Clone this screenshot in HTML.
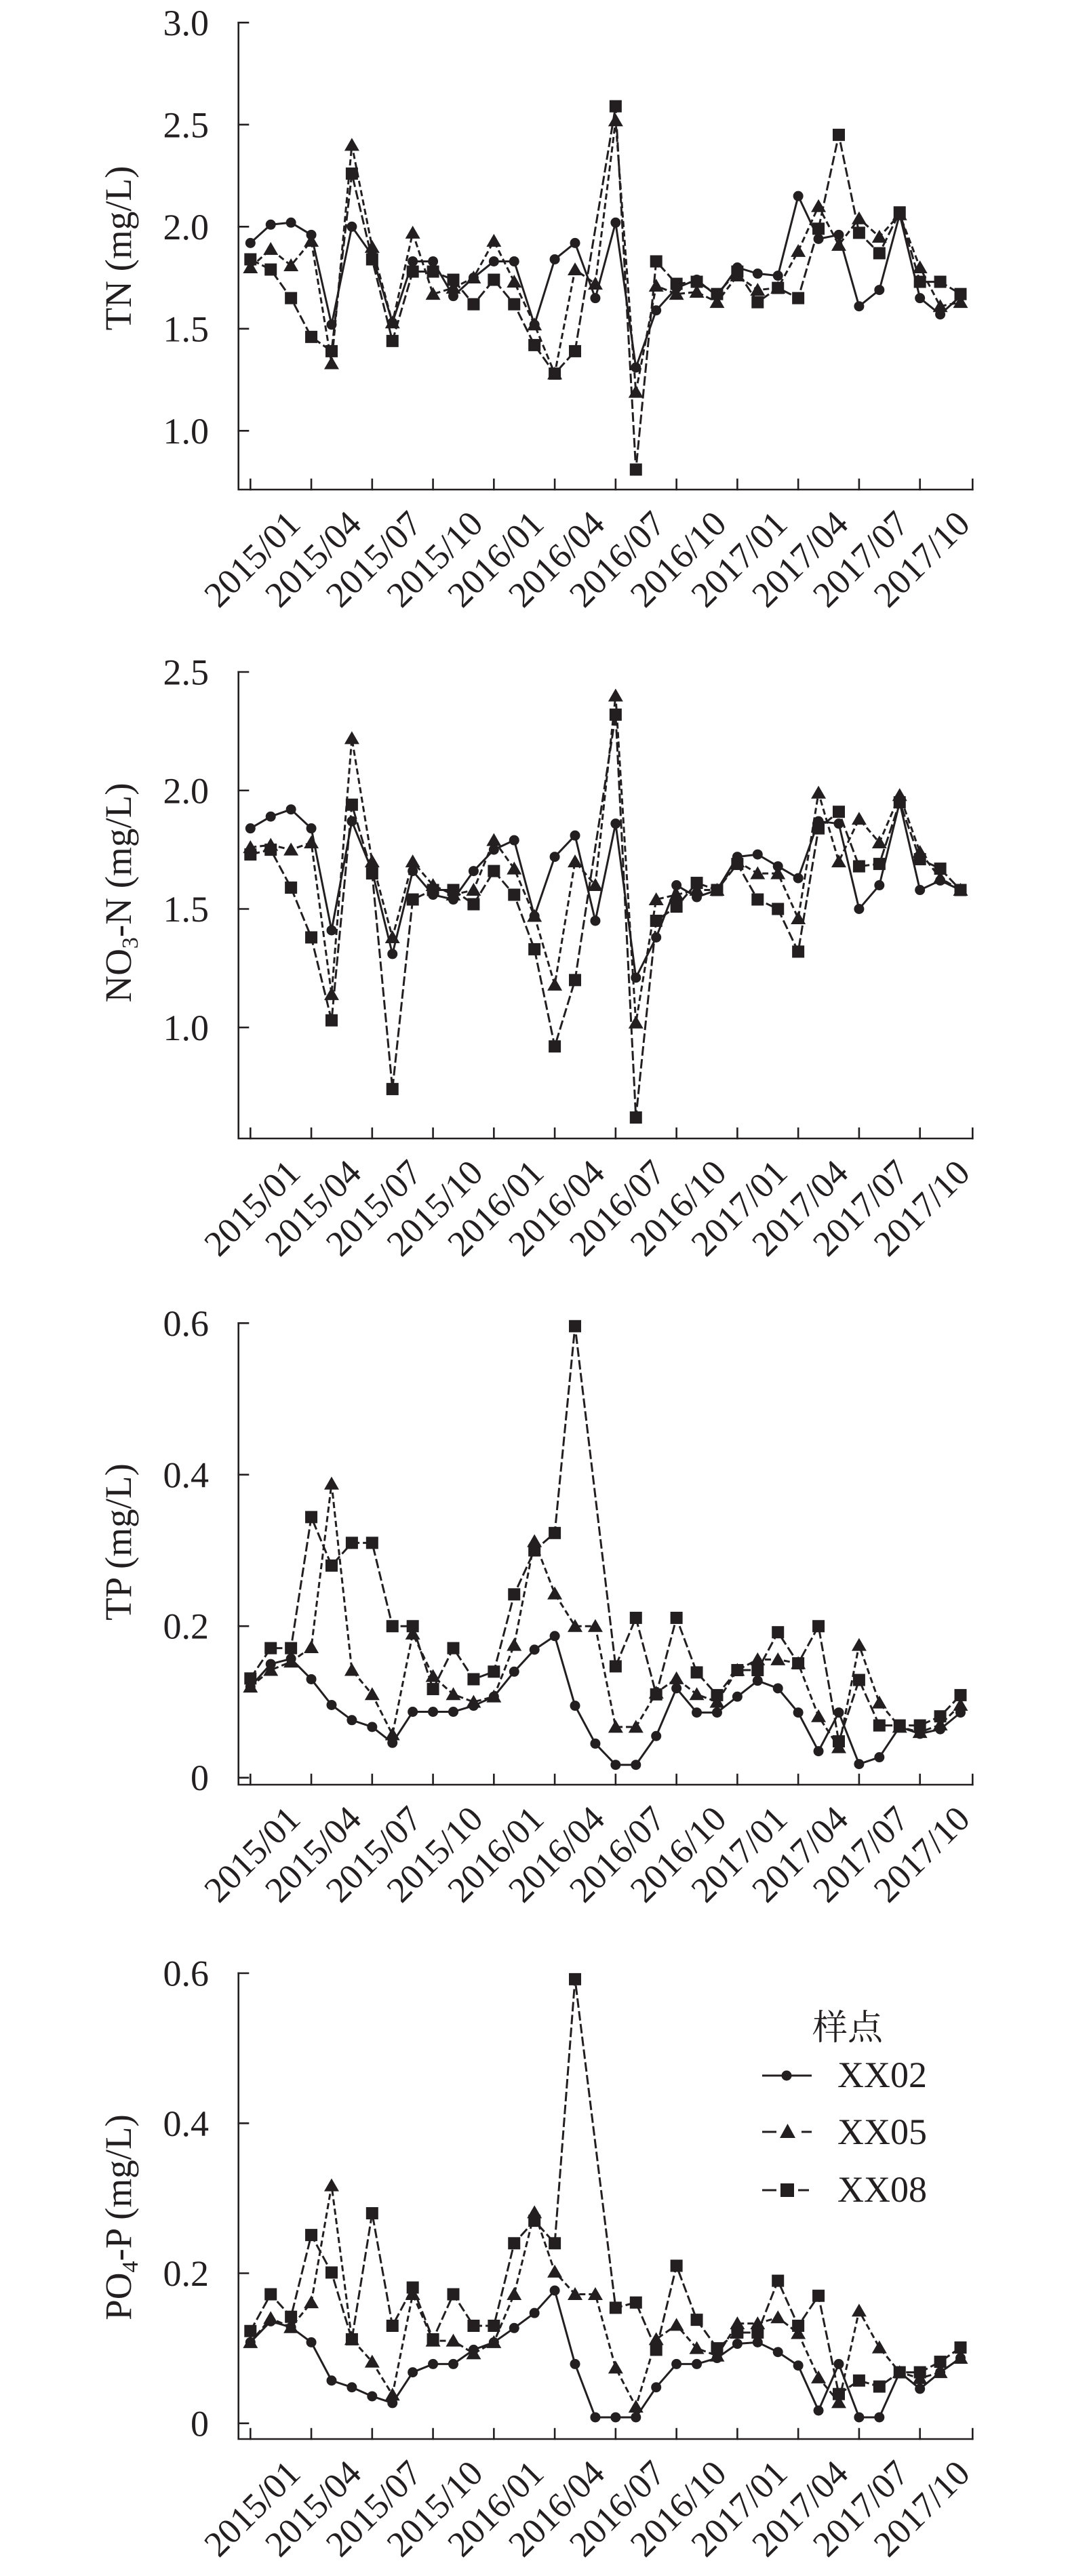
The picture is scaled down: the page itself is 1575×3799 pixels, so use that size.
<!DOCTYPE html>
<html><head><meta charset="utf-8">
<style>
html,body{margin:0;padding:0;background:#fff;}
svg{display:block;}
.ax{stroke:#231f20;stroke-width:2.6;fill:none;stroke-linecap:square;}
.l2{fill:none;stroke:#231f20;stroke-width:3;stroke-linejoin:round;}
.l5{fill:none;stroke:#231f20;stroke-width:3;stroke-dasharray:9 5;}
.l8{fill:none;stroke:#231f20;stroke-width:3;stroke-dasharray:14 5;}
text{font-family:"Liberation Serif","Noto Serif CJK SC",serif;fill:#231f20;}
.yt{font-size:54px;text-anchor:end;}
.xt{font-size:53px;text-anchor:middle;}
.ti{font-size:55px;text-anchor:middle;}
.lg{font-size:54px;}
</style></head>
<body>
<svg width="1575" height="3799" viewBox="0 0 1575 3799" xmlns="http://www.w3.org/2000/svg">
<defs>
<circle id="c1" r="7.5" transform="scale(0.033422,-0.0033223)" fill="#231f20"/>
<path id="t1" d="M0,-10.5L11,8.5L-11,8.5Z" transform="scale(0.033422,-0.0033223)" fill="#231f20"/>
<rect id="s1" x="-9" y="-9" width="18" height="18" transform="scale(0.033422,-0.0033223)" fill="#231f20"/>
<circle id="c2" r="7.5" transform="scale(0.033422,-0.0028612)" fill="#231f20"/>
<path id="t2" d="M0,-10.5L11,8.5L-11,8.5Z" transform="scale(0.033422,-0.0028612)" fill="#231f20"/>
<rect id="s2" x="-9" y="-9" width="18" height="18" transform="scale(0.033422,-0.0028612)" fill="#231f20"/>
<circle id="c3" r="7.5" transform="scale(0.033422,-0.00089502)" fill="#231f20"/>
<path id="t3" d="M0,-10.5L11,8.5L-11,8.5Z" transform="scale(0.033422,-0.00089502)" fill="#231f20"/>
<rect id="s3" x="-9" y="-9" width="18" height="18" transform="scale(0.033422,-0.00089502)" fill="#231f20"/>
<circle id="c4" r="7.5" transform="scale(0.033422,-0.00090391)" fill="#231f20"/>
<path id="t4" d="M0,-10.5L11,8.5L-11,8.5Z" transform="scale(0.033422,-0.00090391)" fill="#231f20"/>
<rect id="s4" x="-9" y="-9" width="18" height="18" transform="scale(0.033422,-0.00090391)" fill="#231f20"/>
</defs>

<!-- ================= PANEL 1 : TN ================= -->
<g>
<path class="ax" d="M351.7,33.3V722H1434.3"/>
<path class="ax" d="M351.7,33.3H366M351.7,183.8H366M351.7,334.3H366M351.7,484.8H366M351.7,635.3H366"/>
<path class="ax" d="M369.3,722V707M459.06,722V707M548.82,722V707M638.58,722V707M728.34,722V707M818.1,722V707M907.86,722V707M997.62,722V707M1087.38,722V707M1177.14,722V707M1266.9,722V707M1356.66,722V707M1434.3,722V707"/>
<text class="yt" x="308" y="51.8">3.0</text>
<text class="yt" x="308" y="202.3">2.5</text>
<text class="yt" x="308" y="352.8">2.0</text>
<text class="yt" x="308" y="503.3">1.5</text>
<text class="yt" x="308" y="653.8">1.0</text>
<text class="ti" transform="translate(193,366) rotate(-90)">TN (mg/L)</text>
<g transform="translate(0,837)">
<text class="xt" transform="translate(384.3,0) rotate(-45)">2015/01</text>
<text class="xt" transform="translate(474.06,0) rotate(-45)">2015/04</text>
<text class="xt" transform="translate(563.82,0) rotate(-45)">2015/07</text>
<text class="xt" transform="translate(653.58,0) rotate(-45)">2015/10</text>
<text class="xt" transform="translate(743.34,0) rotate(-45)">2016/01</text>
<text class="xt" transform="translate(833.1,0) rotate(-45)">2016/04</text>
<text class="xt" transform="translate(922.86,0) rotate(-45)">2016/07</text>
<text class="xt" transform="translate(1012.62,0) rotate(-45)">2016/10</text>
<text class="xt" transform="translate(1102.38,0) rotate(-45)">2017/01</text>
<text class="xt" transform="translate(1192.14,0) rotate(-45)">2017/04</text>
<text class="xt" transform="translate(1281.9,0) rotate(-45)">2017/07</text>
<text class="xt" transform="translate(1371.66,0) rotate(-45)">2017/10</text>
</g>
<g transform="matrix(29.92 0 0 -301 369.3 936.3)">
<polyline class="l8" vector-effect="non-scaling-stroke" points="0,1.84 1,1.79 2,1.65 3,1.46 4,1.39 5,2.26 6,1.84 7,1.44 8,1.78 9,1.78 10,1.74 11,1.62 12,1.74 13,1.62 14,1.42 15,1.28 16,1.39 18,2.59 19,0.81 20,1.83 21,1.72 22,1.73 23,1.67 24,1.78 25,1.63 26,1.70 27,1.65 28,1.99 29,2.45 30,1.97 31,1.87 32,2.07 33,1.73 34,1.73 35,1.67"/>
<polyline class="l5" vector-effect="non-scaling-stroke" points="0,1.80 1,1.89 2,1.81 3,1.93 4,1.33 5,2.40 6,1.90 7,1.53 8,1.97 9,1.67 10,1.70 11,1.75 12,1.93 13,1.73 14,1.52 15,1.28 16,1.79 17,1.72 18,2.52 19,1.19 20,1.71 21,1.67 22,1.68 23,1.63 24,1.76 25,1.69 26,1.70 27,1.88 28,2.10 29,1.91 30,2.04 31,1.95 32,2.06 33,1.80 34,1.61 35,1.63"/>
<polyline class="l2" vector-effect="non-scaling-stroke" points="0,1.92 1,2.01 2,2.02 3,1.96 4,1.52 5,2.00 6,1.86 7,1.53 8,1.83 9,1.83 10,1.66 11,1.75 12,1.83 13,1.83 14,1.52 15,1.84 16,1.92 17,1.65 18,2.02 19,1.31 20,1.59 21,1.70 22,1.74 23,1.66 24,1.80 25,1.77 26,1.76 27,2.15 28,1.94 29,1.96 30,1.61 31,1.69 32,2.06 33,1.65 34,1.57 35,1.66"/>
<use href="#s1" x="0" y="1.84"/><use href="#s1" x="1" y="1.79"/><use href="#s1" x="2" y="1.65"/><use href="#s1" x="3" y="1.46"/><use href="#s1" x="4" y="1.39"/><use href="#s1" x="5" y="2.26"/><use href="#s1" x="6" y="1.84"/><use href="#s1" x="7" y="1.44"/><use href="#s1" x="8" y="1.78"/><use href="#s1" x="9" y="1.78"/><use href="#s1" x="10" y="1.74"/><use href="#s1" x="11" y="1.62"/><use href="#s1" x="12" y="1.74"/><use href="#s1" x="13" y="1.62"/><use href="#s1" x="14" y="1.42"/><use href="#s1" x="15" y="1.28"/><use href="#s1" x="16" y="1.39"/><use href="#s1" x="18" y="2.59"/><use href="#s1" x="19" y="0.81"/><use href="#s1" x="20" y="1.83"/><use href="#s1" x="21" y="1.72"/><use href="#s1" x="22" y="1.73"/><use href="#s1" x="23" y="1.67"/><use href="#s1" x="24" y="1.78"/><use href="#s1" x="25" y="1.63"/><use href="#s1" x="26" y="1.70"/><use href="#s1" x="27" y="1.65"/><use href="#s1" x="28" y="1.99"/><use href="#s1" x="29" y="2.45"/><use href="#s1" x="30" y="1.97"/><use href="#s1" x="31" y="1.87"/><use href="#s1" x="32" y="2.07"/><use href="#s1" x="33" y="1.73"/><use href="#s1" x="34" y="1.73"/><use href="#s1" x="35" y="1.67"/>
<use href="#t1" x="0" y="1.80"/><use href="#t1" x="1" y="1.89"/><use href="#t1" x="2" y="1.81"/><use href="#t1" x="3" y="1.93"/><use href="#t1" x="4" y="1.33"/><use href="#t1" x="5" y="2.40"/><use href="#t1" x="6" y="1.90"/><use href="#t1" x="7" y="1.53"/><use href="#t1" x="8" y="1.97"/><use href="#t1" x="9" y="1.67"/><use href="#t1" x="10" y="1.70"/><use href="#t1" x="11" y="1.75"/><use href="#t1" x="12" y="1.93"/><use href="#t1" x="13" y="1.73"/><use href="#t1" x="14" y="1.52"/><use href="#t1" x="15" y="1.28"/><use href="#t1" x="16" y="1.79"/><use href="#t1" x="17" y="1.72"/><use href="#t1" x="18" y="2.52"/><use href="#t1" x="19" y="1.19"/><use href="#t1" x="20" y="1.71"/><use href="#t1" x="21" y="1.67"/><use href="#t1" x="22" y="1.68"/><use href="#t1" x="23" y="1.63"/><use href="#t1" x="24" y="1.76"/><use href="#t1" x="25" y="1.69"/><use href="#t1" x="26" y="1.70"/><use href="#t1" x="27" y="1.88"/><use href="#t1" x="28" y="2.10"/><use href="#t1" x="29" y="1.91"/><use href="#t1" x="30" y="2.04"/><use href="#t1" x="31" y="1.95"/><use href="#t1" x="32" y="2.06"/><use href="#t1" x="33" y="1.80"/><use href="#t1" x="34" y="1.61"/><use href="#t1" x="35" y="1.63"/>
<use href="#c1" x="0" y="1.92"/><use href="#c1" x="1" y="2.01"/><use href="#c1" x="2" y="2.02"/><use href="#c1" x="3" y="1.96"/><use href="#c1" x="4" y="1.52"/><use href="#c1" x="5" y="2.00"/><use href="#c1" x="6" y="1.86"/><use href="#c1" x="7" y="1.53"/><use href="#c1" x="8" y="1.83"/><use href="#c1" x="9" y="1.83"/><use href="#c1" x="10" y="1.66"/><use href="#c1" x="11" y="1.75"/><use href="#c1" x="12" y="1.83"/><use href="#c1" x="13" y="1.83"/><use href="#c1" x="14" y="1.52"/><use href="#c1" x="15" y="1.84"/><use href="#c1" x="16" y="1.92"/><use href="#c1" x="17" y="1.65"/><use href="#c1" x="18" y="2.02"/><use href="#c1" x="19" y="1.31"/><use href="#c1" x="20" y="1.59"/><use href="#c1" x="21" y="1.70"/><use href="#c1" x="22" y="1.74"/><use href="#c1" x="23" y="1.66"/><use href="#c1" x="24" y="1.80"/><use href="#c1" x="25" y="1.77"/><use href="#c1" x="26" y="1.76"/><use href="#c1" x="27" y="2.15"/><use href="#c1" x="28" y="1.94"/><use href="#c1" x="29" y="1.96"/><use href="#c1" x="30" y="1.61"/><use href="#c1" x="31" y="1.69"/><use href="#c1" x="32" y="2.06"/><use href="#c1" x="33" y="1.65"/><use href="#c1" x="34" y="1.57"/><use href="#c1" x="35" y="1.66"/>
</g>
</g>

<!-- ================= PANEL 2 : NO3-N ================= -->
<g>
<path class="ax" d="M351.7,991V1679H1434.3"/>
<path class="ax" d="M351.7,991H366M351.7,1165.75H366M351.7,1340.5H366M351.7,1515.25H366"/>
<path class="ax" d="M369.3,1679V1664M459.06,1679V1664M548.82,1679V1664M638.58,1679V1664M728.34,1679V1664M818.1,1679V1664M907.86,1679V1664M997.62,1679V1664M1087.38,1679V1664M1177.14,1679V1664M1266.9,1679V1664M1356.66,1679V1664M1434.3,1679V1664"/>
<text class="yt" x="308" y="1009.5">2.5</text>
<text class="yt" x="308" y="1184.25">2.0</text>
<text class="yt" x="308" y="1359">1.5</text>
<text class="yt" x="308" y="1533.75">1.0</text>
<text class="ti" transform="translate(193,1316.5) rotate(-90)">NO<tspan font-size="34" dy="10">3</tspan><tspan dy="-10">-N (mg/L)</tspan></text>
<g transform="translate(0,1794)">
<text class="xt" transform="translate(384.3,0) rotate(-45)">2015/01</text>
<text class="xt" transform="translate(474.06,0) rotate(-45)">2015/04</text>
<text class="xt" transform="translate(563.82,0) rotate(-45)">2015/07</text>
<text class="xt" transform="translate(653.58,0) rotate(-45)">2015/10</text>
<text class="xt" transform="translate(743.34,0) rotate(-45)">2016/01</text>
<text class="xt" transform="translate(833.1,0) rotate(-45)">2016/04</text>
<text class="xt" transform="translate(922.86,0) rotate(-45)">2016/07</text>
<text class="xt" transform="translate(1012.62,0) rotate(-45)">2016/10</text>
<text class="xt" transform="translate(1102.38,0) rotate(-45)">2017/01</text>
<text class="xt" transform="translate(1192.14,0) rotate(-45)">2017/04</text>
<text class="xt" transform="translate(1281.9,0) rotate(-45)">2017/07</text>
<text class="xt" transform="translate(1371.66,0) rotate(-45)">2017/10</text>
</g>
<g transform="matrix(29.92 0 0 -349.5 369.3 1864.75)">
<polyline class="l8" vector-effect="non-scaling-stroke" points="0,1.73 1,1.75 2,1.59 3,1.38 4,1.03 5,1.94 6,1.65 7,0.74 8,1.54 9,1.58 10,1.58 11,1.52 12,1.66 13,1.56 14,1.33 15,0.92 16,1.20 18,2.32 19,0.62 20,1.45 21,1.51 22,1.61 23,1.58 24,1.69 25,1.54 26,1.50 27,1.32 28,1.84 29,1.91 30,1.68 31,1.69 32,1.95 33,1.71 34,1.67 35,1.58"/>
<polyline class="l5" vector-effect="non-scaling-stroke" points="0,1.76 1,1.77 2,1.75 3,1.78 4,1.14 5,2.22 6,1.70 7,1.38 8,1.70 9,1.60 10,1.56 11,1.58 12,1.79 13,1.67 14,1.47 15,1.18 16,1.70 17,1.60 18,2.40 19,1.02 20,1.54 21,1.56 22,1.58 23,1.58 24,1.70 25,1.65 26,1.65 27,1.46 28,1.99 29,1.70 30,1.88 31,1.78 32,1.98 33,1.74 34,1.63 35,1.58"/>
<polyline class="l2" vector-effect="non-scaling-stroke" points="0,1.84 1,1.89 2,1.92 3,1.84 4,1.41 5,1.87 6,1.66 7,1.31 8,1.66 9,1.56 10,1.54 11,1.66 12,1.75 13,1.79 14,1.47 15,1.72 16,1.81 17,1.45 18,1.86 19,1.21 20,1.38 21,1.60 22,1.55 23,1.58 24,1.72 25,1.73 26,1.68 27,1.63 28,1.87 29,1.86 30,1.50 31,1.60 32,1.95 33,1.58 34,1.62 35,1.58"/>
<use href="#s2" x="0" y="1.73"/><use href="#s2" x="1" y="1.75"/><use href="#s2" x="2" y="1.59"/><use href="#s2" x="3" y="1.38"/><use href="#s2" x="4" y="1.03"/><use href="#s2" x="5" y="1.94"/><use href="#s2" x="6" y="1.65"/><use href="#s2" x="7" y="0.74"/><use href="#s2" x="8" y="1.54"/><use href="#s2" x="9" y="1.58"/><use href="#s2" x="10" y="1.58"/><use href="#s2" x="11" y="1.52"/><use href="#s2" x="12" y="1.66"/><use href="#s2" x="13" y="1.56"/><use href="#s2" x="14" y="1.33"/><use href="#s2" x="15" y="0.92"/><use href="#s2" x="16" y="1.20"/><use href="#s2" x="18" y="2.32"/><use href="#s2" x="19" y="0.62"/><use href="#s2" x="20" y="1.45"/><use href="#s2" x="21" y="1.51"/><use href="#s2" x="22" y="1.61"/><use href="#s2" x="23" y="1.58"/><use href="#s2" x="24" y="1.69"/><use href="#s2" x="25" y="1.54"/><use href="#s2" x="26" y="1.50"/><use href="#s2" x="27" y="1.32"/><use href="#s2" x="28" y="1.84"/><use href="#s2" x="29" y="1.91"/><use href="#s2" x="30" y="1.68"/><use href="#s2" x="31" y="1.69"/><use href="#s2" x="32" y="1.95"/><use href="#s2" x="33" y="1.71"/><use href="#s2" x="34" y="1.67"/><use href="#s2" x="35" y="1.58"/>
<use href="#t2" x="0" y="1.76"/><use href="#t2" x="1" y="1.77"/><use href="#t2" x="2" y="1.75"/><use href="#t2" x="3" y="1.78"/><use href="#t2" x="4" y="1.14"/><use href="#t2" x="5" y="2.22"/><use href="#t2" x="6" y="1.70"/><use href="#t2" x="7" y="1.38"/><use href="#t2" x="8" y="1.70"/><use href="#t2" x="9" y="1.60"/><use href="#t2" x="10" y="1.56"/><use href="#t2" x="11" y="1.58"/><use href="#t2" x="12" y="1.79"/><use href="#t2" x="13" y="1.67"/><use href="#t2" x="14" y="1.47"/><use href="#t2" x="15" y="1.18"/><use href="#t2" x="16" y="1.70"/><use href="#t2" x="17" y="1.60"/><use href="#t2" x="18" y="2.40"/><use href="#t2" x="19" y="1.02"/><use href="#t2" x="20" y="1.54"/><use href="#t2" x="21" y="1.56"/><use href="#t2" x="22" y="1.58"/><use href="#t2" x="23" y="1.58"/><use href="#t2" x="24" y="1.70"/><use href="#t2" x="25" y="1.65"/><use href="#t2" x="26" y="1.65"/><use href="#t2" x="27" y="1.46"/><use href="#t2" x="28" y="1.99"/><use href="#t2" x="29" y="1.70"/><use href="#t2" x="30" y="1.88"/><use href="#t2" x="31" y="1.78"/><use href="#t2" x="32" y="1.98"/><use href="#t2" x="33" y="1.74"/><use href="#t2" x="34" y="1.63"/><use href="#t2" x="35" y="1.58"/>
<use href="#c2" x="0" y="1.84"/><use href="#c2" x="1" y="1.89"/><use href="#c2" x="2" y="1.92"/><use href="#c2" x="3" y="1.84"/><use href="#c2" x="4" y="1.41"/><use href="#c2" x="5" y="1.87"/><use href="#c2" x="6" y="1.66"/><use href="#c2" x="7" y="1.31"/><use href="#c2" x="8" y="1.66"/><use href="#c2" x="9" y="1.56"/><use href="#c2" x="10" y="1.54"/><use href="#c2" x="11" y="1.66"/><use href="#c2" x="12" y="1.75"/><use href="#c2" x="13" y="1.79"/><use href="#c2" x="14" y="1.47"/><use href="#c2" x="15" y="1.72"/><use href="#c2" x="16" y="1.81"/><use href="#c2" x="17" y="1.45"/><use href="#c2" x="18" y="1.86"/><use href="#c2" x="19" y="1.21"/><use href="#c2" x="20" y="1.38"/><use href="#c2" x="21" y="1.60"/><use href="#c2" x="22" y="1.55"/><use href="#c2" x="23" y="1.58"/><use href="#c2" x="24" y="1.72"/><use href="#c2" x="25" y="1.73"/><use href="#c2" x="26" y="1.68"/><use href="#c2" x="27" y="1.63"/><use href="#c2" x="28" y="1.87"/><use href="#c2" x="29" y="1.86"/><use href="#c2" x="30" y="1.50"/><use href="#c2" x="31" y="1.60"/><use href="#c2" x="32" y="1.95"/><use href="#c2" x="33" y="1.58"/><use href="#c2" x="34" y="1.62"/><use href="#c2" x="35" y="1.58"/>
</g>
</g>

<!-- ================= PANEL 3 : TP ================= -->
<g>
<path class="ax" d="M351.7,1951.3V2632H1434.3"/>
<path class="ax" d="M351.7,1951.3H366M351.7,2174.8H366M351.7,2398.2H366M351.7,2621.7H366"/>
<path class="ax" d="M369.3,2632V2617M459.06,2632V2617M548.82,2632V2617M638.58,2632V2617M728.34,2632V2617M818.1,2632V2617M907.86,2632V2617M997.62,2632V2617M1087.38,2632V2617M1177.14,2632V2617M1266.9,2632V2617M1356.66,2632V2617M1434.3,2632V2617"/>
<text class="yt" x="308" y="1969.8">0.6</text>
<text class="yt" x="308" y="2193.3">0.4</text>
<text class="yt" x="308" y="2416.7">0.2</text>
<text class="yt" x="308" y="2640.2">0</text>
<text class="ti" transform="translate(193,2274) rotate(-90)">TP (mg/L)</text>
<g transform="translate(0,2747)">
<text class="xt" transform="translate(384.3,0) rotate(-45)">2015/01</text>
<text class="xt" transform="translate(474.06,0) rotate(-45)">2015/04</text>
<text class="xt" transform="translate(563.82,0) rotate(-45)">2015/07</text>
<text class="xt" transform="translate(653.58,0) rotate(-45)">2015/10</text>
<text class="xt" transform="translate(743.34,0) rotate(-45)">2016/01</text>
<text class="xt" transform="translate(833.1,0) rotate(-45)">2016/04</text>
<text class="xt" transform="translate(922.86,0) rotate(-45)">2016/07</text>
<text class="xt" transform="translate(1012.62,0) rotate(-45)">2016/10</text>
<text class="xt" transform="translate(1102.38,0) rotate(-45)">2017/01</text>
<text class="xt" transform="translate(1192.14,0) rotate(-45)">2017/04</text>
<text class="xt" transform="translate(1281.9,0) rotate(-45)">2017/07</text>
<text class="xt" transform="translate(1371.66,0) rotate(-45)">2017/10</text>
</g>
<g transform="matrix(29.92 0 0 -1117.3 369.3 2621.7)">
<polyline class="l8" vector-effect="non-scaling-stroke" points="0,.131 1,.171 2,.171 3,.344 4,.28 5,.31 6,.31 7,.20 8,.20 9,.117 10,.171 11,.13 12,.14 13,.242 14,.30 15,.323 16,.596 18,.147 19,.211 20,.11 21,.211 22,.139 23,.109 24,.142 25,.142 26,.192 27,.151 28,.20 29,.048 30,.129 31,.069 32,.069 33,.069 34,.081 35,.109"/>
<polyline class="l5" vector-effect="non-scaling-stroke" points="0,.12 1,.142 2,.153 3,.172 4,.388 5,.142 6,.11 7,.057 8,.19 9,.134 10,.11 11,.10 12,.107 13,.175 14,.312 15,.243 16,.20 17,.20 18,.067 19,.067 20,.112 21,.131 22,.11 23,.10 24,.142 25,.156 26,.156 27,.151 28,.081 29,.04 30,.175 31,.099 32,.067 33,.06 34,.07 35,.096"/>
<polyline class="l2" vector-effect="non-scaling-stroke" points="0,.12 1,.15 2,.157 3,.13 4,.096 5,.076 6,.067 7,.046 8,.087 9,.087 10,.087 11,.095 12,.107 13,.14 14,.169 15,.187 16,.095 17,.045 18,.017 19,.017 20,.055 21,.118 22,.086 23,.086 24,.107 25,.128 26,.118 27,.086 28,.035 29,.086 30,.018 31,.027 32,.067 33,.058 34,.064 35,.086"/>
<use href="#s3" x="0" y=".131"/><use href="#s3" x="1" y=".171"/><use href="#s3" x="2" y=".171"/><use href="#s3" x="3" y=".344"/><use href="#s3" x="4" y=".28"/><use href="#s3" x="5" y=".31"/><use href="#s3" x="6" y=".31"/><use href="#s3" x="7" y=".20"/><use href="#s3" x="8" y=".20"/><use href="#s3" x="9" y=".117"/><use href="#s3" x="10" y=".171"/><use href="#s3" x="11" y=".13"/><use href="#s3" x="12" y=".14"/><use href="#s3" x="13" y=".242"/><use href="#s3" x="14" y=".30"/><use href="#s3" x="15" y=".323"/><use href="#s3" x="16" y=".596"/><use href="#s3" x="18" y=".147"/><use href="#s3" x="19" y=".211"/><use href="#s3" x="20" y=".11"/><use href="#s3" x="21" y=".211"/><use href="#s3" x="22" y=".139"/><use href="#s3" x="23" y=".109"/><use href="#s3" x="24" y=".142"/><use href="#s3" x="25" y=".142"/><use href="#s3" x="26" y=".192"/><use href="#s3" x="27" y=".151"/><use href="#s3" x="28" y=".20"/><use href="#s3" x="29" y=".048"/><use href="#s3" x="30" y=".129"/><use href="#s3" x="31" y=".069"/><use href="#s3" x="32" y=".069"/><use href="#s3" x="33" y=".069"/><use href="#s3" x="34" y=".081"/><use href="#s3" x="35" y=".109"/>
<use href="#t3" x="0" y=".12"/><use href="#t3" x="1" y=".142"/><use href="#t3" x="2" y=".153"/><use href="#t3" x="3" y=".172"/><use href="#t3" x="4" y=".388"/><use href="#t3" x="5" y=".142"/><use href="#t3" x="6" y=".11"/><use href="#t3" x="7" y=".057"/><use href="#t3" x="8" y=".19"/><use href="#t3" x="9" y=".134"/><use href="#t3" x="10" y=".11"/><use href="#t3" x="11" y=".10"/><use href="#t3" x="12" y=".107"/><use href="#t3" x="13" y=".175"/><use href="#t3" x="14" y=".312"/><use href="#t3" x="15" y=".243"/><use href="#t3" x="16" y=".20"/><use href="#t3" x="17" y=".20"/><use href="#t3" x="18" y=".067"/><use href="#t3" x="19" y=".067"/><use href="#t3" x="20" y=".112"/><use href="#t3" x="21" y=".131"/><use href="#t3" x="22" y=".11"/><use href="#t3" x="23" y=".10"/><use href="#t3" x="24" y=".142"/><use href="#t3" x="25" y=".156"/><use href="#t3" x="26" y=".156"/><use href="#t3" x="27" y=".151"/><use href="#t3" x="28" y=".081"/><use href="#t3" x="29" y=".04"/><use href="#t3" x="30" y=".175"/><use href="#t3" x="31" y=".099"/><use href="#t3" x="32" y=".067"/><use href="#t3" x="33" y=".06"/><use href="#t3" x="34" y=".07"/><use href="#t3" x="35" y=".096"/>
<use href="#c3" x="0" y=".12"/><use href="#c3" x="1" y=".15"/><use href="#c3" x="2" y=".157"/><use href="#c3" x="3" y=".13"/><use href="#c3" x="4" y=".096"/><use href="#c3" x="5" y=".076"/><use href="#c3" x="6" y=".067"/><use href="#c3" x="7" y=".046"/><use href="#c3" x="8" y=".087"/><use href="#c3" x="9" y=".087"/><use href="#c3" x="10" y=".087"/><use href="#c3" x="11" y=".095"/><use href="#c3" x="12" y=".107"/><use href="#c3" x="13" y=".14"/><use href="#c3" x="14" y=".169"/><use href="#c3" x="15" y=".187"/><use href="#c3" x="16" y=".095"/><use href="#c3" x="17" y=".045"/><use href="#c3" x="18" y=".017"/><use href="#c3" x="19" y=".017"/><use href="#c3" x="20" y=".055"/><use href="#c3" x="21" y=".118"/><use href="#c3" x="22" y=".086"/><use href="#c3" x="23" y=".086"/><use href="#c3" x="24" y=".107"/><use href="#c3" x="25" y=".128"/><use href="#c3" x="26" y=".118"/><use href="#c3" x="27" y=".086"/><use href="#c3" x="28" y=".035"/><use href="#c3" x="29" y=".086"/><use href="#c3" x="30" y=".018"/><use href="#c3" x="31" y=".027"/><use href="#c3" x="32" y=".067"/><use href="#c3" x="33" y=".058"/><use href="#c3" x="34" y=".064"/><use href="#c3" x="35" y=".086"/>
</g>
</g>

<!-- ================= PANEL 4 : PO4-P ================= -->
<g>
<path class="ax" d="M351.7,2910V3597H1434.3"/>
<path class="ax" d="M351.7,2910H366M351.7,3131.3H366M351.7,3352.5H366M351.7,3573.8H366"/>
<path class="ax" d="M369.3,3597V3582M459.06,3597V3582M548.82,3597V3582M638.58,3597V3582M728.34,3597V3582M818.1,3597V3582M907.86,3597V3582M997.62,3597V3582M1087.38,3597V3582M1177.14,3597V3582M1266.9,3597V3582M1356.66,3597V3582M1434.3,3597V3582"/>
<text class="yt" x="308" y="2928.5">0.6</text>
<text class="yt" x="308" y="3149.8">0.4</text>
<text class="yt" x="308" y="3371">0.2</text>
<text class="yt" x="308" y="3592.3">0</text>
<text class="ti" transform="translate(193,3270) rotate(-90)">PO<tspan font-size="34" dy="10">4</tspan><tspan dy="-10">-P (mg/L)</tspan></text>
<g transform="translate(0,3712)">
<text class="xt" transform="translate(384.3,0) rotate(-45)">2015/01</text>
<text class="xt" transform="translate(474.06,0) rotate(-45)">2015/04</text>
<text class="xt" transform="translate(563.82,0) rotate(-45)">2015/07</text>
<text class="xt" transform="translate(653.58,0) rotate(-45)">2015/10</text>
<text class="xt" transform="translate(743.34,0) rotate(-45)">2016/01</text>
<text class="xt" transform="translate(833.1,0) rotate(-45)">2016/04</text>
<text class="xt" transform="translate(922.86,0) rotate(-45)">2016/07</text>
<text class="xt" transform="translate(1012.62,0) rotate(-45)">2016/10</text>
<text class="xt" transform="translate(1102.38,0) rotate(-45)">2017/01</text>
<text class="xt" transform="translate(1192.14,0) rotate(-45)">2017/04</text>
<text class="xt" transform="translate(1281.9,0) rotate(-45)">2017/07</text>
<text class="xt" transform="translate(1371.66,0) rotate(-45)">2017/10</text>
</g>
<g transform="matrix(29.92 0 0 -1106.3 369.3 3573.8)">
<polyline class="l8" vector-effect="non-scaling-stroke" points="0,.123 1,.172 2,.142 3,.251 4,.201 5,.112 6,.28 7,.13 8,.181 9,.112 10,.172 11,.13 12,.13 13,.24 14,.27 15,.24 16,.592 18,.154 19,.161 20,.098 21,.21 22,.138 23,.10 24,.121 25,.121 26,.19 27,.13 28,.17 29,.039 30,.057 31,.049 32,.068 33,.068 34,.082 35,.101"/>
<polyline class="l5" vector-effect="non-scaling-stroke" points="0,.108 1,.14 2,.128 3,.161 4,.317 5,.112 6,.082 7,.038 8,.172 9,.11 10,.11 11,.093 12,.108 13,.172 14,.281 15,.202 16,.172 17,.172 18,.074 19,.022 20,.112 21,.131 22,.10 23,.09 24,.133 25,.133 26,.141 27,.12 28,.061 29,.028 30,.15 31,.101 32,.068 33,.06 34,.068 35,.087"/>
<polyline class="l2" vector-effect="non-scaling-stroke" points="0,.108 1,.136 2,.128 3,.108 4,.057 5,.048 6,.036 7,.027 8,.068 9,.079 10,.079 11,.098 12,.108 13,.127 14,.147 15,.177 16,.079 17,.008 18,.008 19,.008 20,.048 21,.079 22,.079 23,.087 24,.106 25,.108 26,.095 27,.077 28,.017 29,.079 30,.008 31,.008 32,.068 33,.046 34,.068 35,.087"/>
<use href="#s4" x="0" y=".123"/><use href="#s4" x="1" y=".172"/><use href="#s4" x="2" y=".142"/><use href="#s4" x="3" y=".251"/><use href="#s4" x="4" y=".201"/><use href="#s4" x="5" y=".112"/><use href="#s4" x="6" y=".28"/><use href="#s4" x="7" y=".13"/><use href="#s4" x="8" y=".181"/><use href="#s4" x="9" y=".112"/><use href="#s4" x="10" y=".172"/><use href="#s4" x="11" y=".13"/><use href="#s4" x="12" y=".13"/><use href="#s4" x="13" y=".24"/><use href="#s4" x="14" y=".27"/><use href="#s4" x="15" y=".24"/><use href="#s4" x="16" y=".592"/><use href="#s4" x="18" y=".154"/><use href="#s4" x="19" y=".161"/><use href="#s4" x="20" y=".098"/><use href="#s4" x="21" y=".21"/><use href="#s4" x="22" y=".138"/><use href="#s4" x="23" y=".10"/><use href="#s4" x="24" y=".121"/><use href="#s4" x="25" y=".121"/><use href="#s4" x="26" y=".19"/><use href="#s4" x="27" y=".13"/><use href="#s4" x="28" y=".17"/><use href="#s4" x="29" y=".039"/><use href="#s4" x="30" y=".057"/><use href="#s4" x="31" y=".049"/><use href="#s4" x="32" y=".068"/><use href="#s4" x="33" y=".068"/><use href="#s4" x="34" y=".082"/><use href="#s4" x="35" y=".101"/>
<use href="#t4" x="0" y=".108"/><use href="#t4" x="1" y=".14"/><use href="#t4" x="2" y=".128"/><use href="#t4" x="3" y=".161"/><use href="#t4" x="4" y=".317"/><use href="#t4" x="5" y=".112"/><use href="#t4" x="6" y=".082"/><use href="#t4" x="7" y=".038"/><use href="#t4" x="8" y=".172"/><use href="#t4" x="9" y=".11"/><use href="#t4" x="10" y=".11"/><use href="#t4" x="11" y=".093"/><use href="#t4" x="12" y=".108"/><use href="#t4" x="13" y=".172"/><use href="#t4" x="14" y=".281"/><use href="#t4" x="15" y=".202"/><use href="#t4" x="16" y=".172"/><use href="#t4" x="17" y=".172"/><use href="#t4" x="18" y=".074"/><use href="#t4" x="19" y=".022"/><use href="#t4" x="20" y=".112"/><use href="#t4" x="21" y=".131"/><use href="#t4" x="22" y=".10"/><use href="#t4" x="23" y=".09"/><use href="#t4" x="24" y=".133"/><use href="#t4" x="25" y=".133"/><use href="#t4" x="26" y=".141"/><use href="#t4" x="27" y=".12"/><use href="#t4" x="28" y=".061"/><use href="#t4" x="29" y=".028"/><use href="#t4" x="30" y=".15"/><use href="#t4" x="31" y=".101"/><use href="#t4" x="32" y=".068"/><use href="#t4" x="33" y=".06"/><use href="#t4" x="34" y=".068"/><use href="#t4" x="35" y=".087"/>
<use href="#c4" x="0" y=".108"/><use href="#c4" x="1" y=".136"/><use href="#c4" x="2" y=".128"/><use href="#c4" x="3" y=".108"/><use href="#c4" x="4" y=".057"/><use href="#c4" x="5" y=".048"/><use href="#c4" x="6" y=".036"/><use href="#c4" x="7" y=".027"/><use href="#c4" x="8" y=".068"/><use href="#c4" x="9" y=".079"/><use href="#c4" x="10" y=".079"/><use href="#c4" x="11" y=".098"/><use href="#c4" x="12" y=".108"/><use href="#c4" x="13" y=".127"/><use href="#c4" x="14" y=".147"/><use href="#c4" x="15" y=".177"/><use href="#c4" x="16" y=".079"/><use href="#c4" x="17" y=".008"/><use href="#c4" x="18" y=".008"/><use href="#c4" x="19" y=".008"/><use href="#c4" x="20" y=".048"/><use href="#c4" x="21" y=".079"/><use href="#c4" x="22" y=".079"/><use href="#c4" x="23" y=".087"/><use href="#c4" x="24" y=".106"/><use href="#c4" x="25" y=".108"/><use href="#c4" x="26" y=".095"/><use href="#c4" x="27" y=".077"/><use href="#c4" x="28" y=".017"/><use href="#c4" x="29" y=".079"/><use href="#c4" x="30" y=".008"/><use href="#c4" x="31" y=".008"/><use href="#c4" x="32" y=".068"/><use href="#c4" x="33" y=".046"/><use href="#c4" x="34" y=".068"/><use href="#c4" x="35" y=".087"/>
</g>

<!-- Legend -->
<text x="1250" y="3008" font-size="52" text-anchor="middle">样点</text>
<line x1="1124" y1="3061" x2="1197" y2="3061" stroke="#231f20" stroke-width="3"/>
<circle cx="1160" cy="3061" r="7.5" fill="#231f20"/>
<text class="lg" x="1235" y="3078">XX02</text>
<line x1="1124" y1="3144" x2="1145" y2="3144" stroke="#231f20" stroke-width="3"/>
<line x1="1182" y1="3144" x2="1197" y2="3144" stroke="#231f20" stroke-width="3"/>
<path d="M1161.5,3132L1173,3153L1150,3153Z" fill="#231f20"/>
<text class="lg" x="1235" y="3162">XX05</text>
<line x1="1124" y1="3230" x2="1145" y2="3230" stroke="#231f20" stroke-width="3"/>
<line x1="1177" y1="3230" x2="1193" y2="3230" stroke="#231f20" stroke-width="3"/>
<rect x="1151" y="3220" width="20" height="20" fill="#231f20"/>
<text class="lg" x="1235" y="3247">XX08</text>
</g>
</svg>
</body></html>
